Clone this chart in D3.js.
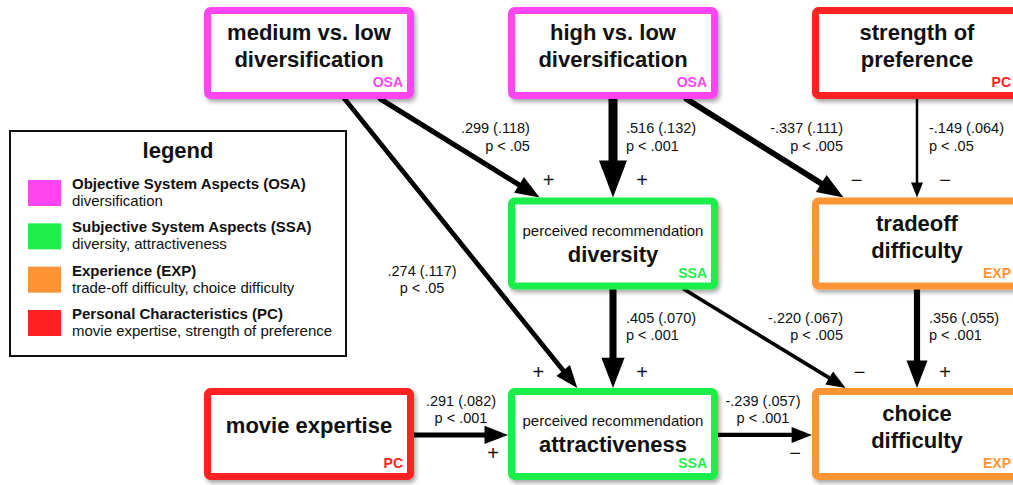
<!DOCTYPE html>
<html>
<head>
<meta charset="utf-8">
<style>
  body { margin: 0; background: #fff; font-family: "Liberation Sans", Arial, sans-serif; }
  svg { display: block; }
</style>
</head>
<body>
<svg id="graph"></svg>
<script src="https://cdn.jsdelivr.net/npm/d3@7/dist/d3.min.js"></script>
<script>

// construct types (legend)
var categories = [
  {code: "OSA", name: "Objective System Aspects (OSA)", desc: "diversification"},
  {code: "SSA", name: "Subjective System Aspects (SSA)", desc: "diversity, attractiveness"},
  {code: "EXP", name: "Experience (EXP)", desc: "trade-off difficulty, choice difficulty"},
  {code: "PC",  name: "Personal Characteristics (PC)", desc: "movie expertise, strength of preference"}
];

// constructs: grid column / row and label
var nodes = [
  {id: "med",    type: "OSA", col: 0, row: 0, lines: ["medium vs. low", "diversification"]},
  {id: "high",   type: "OSA", col: 1, row: 0, lines: ["high vs. low", "diversification"]},
  {id: "pref",   type: "PC",  col: 2, row: 0, lines: ["strength of", "preference"]},
  {id: "div",    type: "SSA", col: 1, row: 1, sub: "perceived recommendation", lines: ["diversity"]},
  {id: "trade",  type: "EXP", col: 2, row: 1, lines: ["tradeoff", "difficulty"]},
  {id: "exp",    type: "PC",  col: 0, row: 2, lines: ["movie expertise"]},
  {id: "attr",   type: "SSA", col: 1, row: 2, sub: "perceived recommendation", lines: ["attractiveness"]},
  {id: "choice", type: "EXP", col: 2, row: 2, lines: ["choice", "difficulty"]}
];

// path coefficients: estimate, standard error, p bound
var edges = [
  {from: "med",   to: "div",    b:  0.299, se: 0.118, p: 0.05,  sign: "+"},
  {from: "high",  to: "div",    b:  0.516, se: 0.132, p: 0.001, sign: "+"},
  {from: "high",  to: "trade",  b: -0.337, se: 0.111, p: 0.005, sign: "\u2212"},
  {from: "pref",  to: "trade",  b: -0.149, se: 0.064, p: 0.05,  sign: "\u2212"},
  {from: "med",   to: "attr",   b:  0.274, se: 0.117, p: 0.05,  sign: "+"},
  {from: "div",   to: "attr",   b:  0.405, se: 0.070, p: 0.001, sign: "+"},
  {from: "div",   to: "choice", b: -0.220, se: 0.067, p: 0.005, sign: "\u2212"},
  {from: "trade", to: "choice", b:  0.356, se: 0.055, p: 0.001, sign: "+"},
  {from: "exp",   to: "attr",   b:  0.291, se: 0.082, p: 0.001, sign: "+"},
  {from: "attr",  to: "choice", b: -0.239, se: 0.057, p: 0.001, sign: "\u2212"}
];

// layout of each path: anchor fractions on the boxes, label and sign offsets
var edgeLayout = [
  {s: 0.84, t: 0.15, lx:  70, ly: -15, anchor: "end",    sx:   9, sy: -18},
  {s: 0.50, t: 0.50, lx:  13, ly: -15, anchor: "start",  sx:  29, sy: -18},
  {s: 0.85, t: 0.15, lx:  78, ly: -15, anchor: "end",    sx:  13, sy: -18},
  {s: 0.50, t: 0.50, lx:  12, ly: -15, anchor: "start",  sx:  28, sy: -18},
  {s: 0.67, t: 0.33, lx: -39, ly:  32, anchor: "middle", sx: -39, sy: -16},
  {s: 0.50, t: 0.50, lx:  13, ly: -16, anchor: "start",  sx:  29, sy: -16},
  {s: 0.84, t: 0.16, lx:  78, ly: -16, anchor: "end",    sx:  14, sy: -16},
  {s: 0.50, t: 0.50, lx:  12, ly: -16, anchor: "start",  sx:  28, sy: -16},
  {s: 0.51, t: 0.51, lx:   0, ly: -29, anchor: "middle", sx: -15, sy:  18},
  {s: 0.51, t: 0.51, lx:  -2, ly: -29, anchor: "middle", sx: -17, sy:  18}
];

var colors = {OSA: "#ff45ef", SSA: "#1fee4a", EXP: "#ff9436", PC: "#ff2222"};

var width = 1013, height = 485,
    boxW = 210, boxH = 92, border = 7;

var x = d3.scaleLinear().domain([0, 2]).range([204, 812]);
var y = d3.scaleLinear().domain([0, 2]).range([7, 388]);

var absB = d3.extent(edges, d => Math.abs(d.b));
var strokeW = d3.scaleLinear().domain(absB).range([2.5, 9]);
var headLen = d3.scaleLinear().domain(absB).range([15, 37]);
var headW   = d3.scaleLinear().domain(absB).range([12, 28]);

var fmt = v => d3.format(".3f")(v).replace("\u2212", "-").replace("0.", ".");

var svg = d3.select("#graph")
    .attr("width", width)
    .attr("height", height);

var shadow = svg.append("defs").append("filter")
    .attr("id", "shadow")
    .attr("x", "-10%").attr("y", "-10%")
    .attr("width", "130%").attr("height", "140%");
shadow.append("feDropShadow")
    .attr("dx", 2).attr("dy", 3)
    .attr("stdDeviation", 2)
    .attr("flood-color", "#000")
    .attr("flood-opacity", 0.35);

var byId = {};
nodes.forEach(n => byId[n.id] = n);

// arrows
var arrows = svg.append("g");
edges.forEach(function(e, i) {
  var a = byId[e.from], b = byId[e.to], L = edgeLayout[i];
  var x1, y1, x2, y2;
  if (a.row == b.row) {
    x1 = x(a.col) + boxW; y1 = y(a.row) + L.s * boxH;
    x2 = x(b.col);        y2 = y(b.row) + L.t * boxH;
  } else {
    x1 = x(a.col) + L.s * boxW; y1 = y(a.row) + boxH;
    x2 = x(b.col) + L.t * boxW; y2 = y(b.row);
  }
  var len = Math.hypot(x2 - x1, y2 - y1),
      ux = (x2 - x1) / len, uy = (y2 - y1) / len,
      hl = headLen(Math.abs(e.b)), hw = headW(Math.abs(e.b)) / 2;

  arrows.append("line")
      .attr("x1", x1).attr("y1", y1)
      .attr("x2", x2 - ux * hl * 0.8).attr("y2", y2 - uy * hl * 0.8)
      .attr("stroke", "#000")
      .attr("stroke-width", strokeW(Math.abs(e.b)))
      .attr("stroke-linecap", "round");

  var bx = x2 - ux * hl, by = y2 - uy * hl;
  arrows.append("path")
      .attr("d", "M" + x2 + "," + y2 +
                 "L" + (bx - uy * hw) + "," + (by + ux * hw) +
                 "L" + (bx + uy * hw) + "," + (by - ux * hw) + "Z")
      .attr("fill", "#000");

  var mx = (x1 + x2) / 2, my = (y1 + y2) / 2;
  var lab = arrows.append("text")
      .attr("text-anchor", L.anchor)
      .attr("font-size", "14.5px")
      .attr("fill", "#111");
  lab.append("tspan")
      .attr("x", mx + L.lx).attr("y", my + L.ly)
      .text(fmt(e.b) + " (" + fmt(e.se) + ")");
  lab.append("tspan")
      .attr("x", mx + L.lx).attr("y", my + L.ly + 17.5)
      .text("p < " + String(e.p).replace("0.", "."));

  arrows.append("text")
      .attr("x", x2 + L.sx).attr("y", y2 + L.sy)
      .attr("text-anchor", "middle")
      .attr("dominant-baseline", "central")
      .attr("font-size", "20px")
      .attr("fill", "#111")
      .text(e.sign);
});

// construct boxes
var box = svg.selectAll(".node")
  .data(nodes)
  .enter().append("g")
    .attr("class", "node")
    .attr("transform", d => "translate(" + x(d.col) + "," + y(d.row) + ")");

box.append("rect")
    .attr("x", border / 2).attr("y", border / 2)
    .attr("width", boxW - border).attr("height", boxH - border)
    .attr("rx", 3)
    .attr("fill", "#fff")
    .attr("stroke", d => colors[d.type])
    .attr("stroke-width", border)
    .attr("filter", "url(#shadow)");

box.each(function(d) {
  var g = d3.select(this);
  if (d.sub) {
    g.append("text")
        .attr("x", boxW / 2).attr("y", 38)
        .attr("text-anchor", "middle")
        .attr("font-size", "15px")
        .attr("fill", "#111")
        .text(d.sub);
    g.append("text")
        .attr("x", boxW / 2).attr("y", 64)
        .attr("text-anchor", "middle")
        .attr("font-size", "22px")
        .attr("font-weight", "bold")
        .attr("fill", "#111")
        .text(d.lines[0]);
  } else {
    var base = d.lines.length == 1 ? [45] : [33, 60];
    d.lines.forEach(function(t, k) {
      g.append("text")
          .attr("x", boxW / 2).attr("y", base[k])
          .attr("text-anchor", "middle")
          .attr("font-size", "22px")
          .attr("font-weight", "bold")
          .attr("fill", "#111")
          .text(t);
    });
  }
});

box.append("text")
    .attr("x", boxW - 11).attr("y", boxH - 12)
    .attr("text-anchor", "end")
    .attr("font-size", "14px")
    .attr("font-weight", "bold")
    .attr("fill", d => colors[d.type])
    .text(d => d.type);

// legend
var legend = svg.append("g");
legend.append("rect")
    .attr("x", 10).attr("y", 131)
    .attr("width", 336).attr("height", 225)
    .attr("fill", "#fff")
    .attr("stroke", "#111")
    .attr("stroke-width", 2);
legend.append("text")
    .attr("x", 178).attr("y", 158)
    .attr("text-anchor", "middle")
    .attr("font-size", "22px")
    .attr("font-weight", "bold")
    .attr("fill", "#111")
    .text("legend");

var ly = d3.scalePoint().domain(categories.map(d => d.code)).range([180, 310]);
var item = legend.selectAll(".item")
  .data(categories)
  .enter().append("g")
    .attr("class", "item")
    .attr("transform", d => "translate(0," + ly(d.code) + ")");
item.append("rect")
    .attr("x", 28).attr("width", 33).attr("height", 26)
    .attr("fill", d => colors[d.code]);
item.append("text")
    .attr("x", 72).attr("y", 9)
    .attr("font-size", "15px")
    .attr("font-weight", "bold")
    .attr("fill", "#111")
    .text(d => d.name);
item.append("text")
    .attr("x", 72).attr("y", 26)
    .attr("font-size", "15px")
    .attr("fill", "#111")
    .text(d => d.desc);

</script>
</body>
</html>
